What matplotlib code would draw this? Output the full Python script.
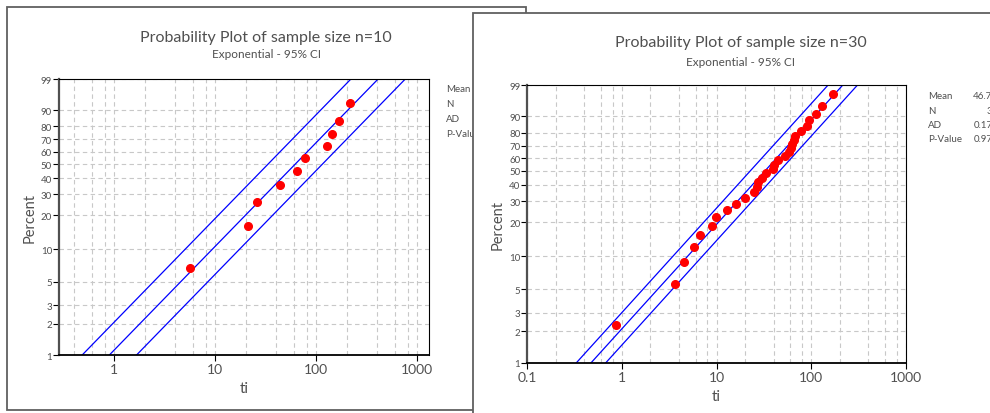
import numpy as np
import matplotlib.pyplot as plt
from matplotlib.patches import Rectangle
from matplotlib.ticker import LogLocator, NullFormatter

plt.rcParams['font.family'] = ['Lato', 'DejaVu Sans']

# sample n=10 (failure times) and median-rank percents
t10 = [5.66, 21.1, 25.9, 43.4, 64.0, 76.8, 126.8, 142, 168, 214]
pct10 = [6.7, 16.3, 26.0, 35.6, 45.2, 54.8, 64.4, 74.0, 83.7, 93.3]
mean10 = 88.8

# sample n=30
t30 = [0.865, 3.66, 4.48, 5.76, 6.72, 8.93, 9.76, 12.97, 16.0, 20.1,
       24.8, 26.5, 27.5, 30.1, 33.5, 39.7, 40.3, 44.8, 52.3, 58.1,
       61.0, 63.0, 65.6, 67.2, 77.1, 90.0, 94.4, 111, 130, 171]
pct30 = [2.30, 5.59, 8.88, 12.17, 15.46, 18.75, 22.04, 25.33, 28.62, 31.91,
         35.20, 38.49, 41.78, 45.07, 48.36, 51.64, 54.93, 58.22, 61.51, 64.80,
         68.09, 71.38, 74.67, 77.96, 81.25, 84.54, 87.83, 91.12, 94.41, 97.70]
mean30 = 46.72

stat_names = ['Mean', 'N', 'AD', 'P-Value']
stat_vals30 = ['46.72', '30', '0.177', '0.973']

yticks = [1, 2, 3, 5, 10, 20, 30, 40, 50, 60, 70, 80, 90, 99]

W, H = 990, 414
TXT = '#505050'


def box(x0, y0, x1, y1):
    return [x0 / W, 1 - y1 / H, (x1 - x0) / W, (y1 - y0) / H]


def fwd(p):
    p = np.clip(np.asarray(p, dtype=float), 1e-4, 99.9999)
    return np.log10(-np.log(1 - p / 100))


def inv(w):
    return 100 * (1 - np.exp(-10 ** np.asarray(w, dtype=float)))


def ftext(x, y, s, z, **kw):
    kw.setdefault('color', TXT)
    fig.text(x / W, 1 - y / H, s, zorder=z, **kw)


def prob_plot(ax, t, pct, mean, n, xlim, xticks):
    ax.set_xscale('log')
    ax.set_yscale('function', functions=(fwd, inv))
    ax.set_xlim(*xlim)
    ax.set_ylim(1, 99)
    # fitted line and 95% CI on the scale parameter
    p_line = np.array([0.5, 99.5])
    q = -np.log(1 - p_line / 100)
    ci = np.exp(1.96 / np.sqrt(n))
    for k in [1 / ci, 1, ci]:
        ax.plot(mean * k * q, p_line, color='#0000ff', lw=0.9)
    ax.plot(t, pct, 'o', color='#ff0000', ms=5.5, mec='#ff0000')
    ax.set_yticks(yticks)
    ax.set_yticklabels([str(v) for v in yticks], fontsize=7, color=TXT)
    ax.set_xticks(xticks)
    ax.set_xticklabels([('%g' % v) for v in xticks], fontsize=10, color=TXT)
    ax.xaxis.set_minor_locator(LogLocator(base=10, subs=(2, 4, 6, 8)))
    ax.xaxis.set_minor_formatter(NullFormatter())
    ax.tick_params(axis='x', which='minor', length=0)
    ax.tick_params(axis='x', which='major', length=4, pad=2)
    ax.tick_params(axis='y', which='major', length=4, pad=1)
    ax.grid(True, which='both', axis='x', color='#c8c8c8', ls=(0, (4, 3)), lw=0.8)
    ax.grid(True, which='major', axis='y', color='#c8c8c8', ls=(0, (4, 3)), lw=0.8)
    ax.spines['left'].set_color('#505050')
    ax.spines['left'].set_linewidth(1.6)
    ax.spines['bottom'].set_linewidth(1.3)
    ax.set_xlabel('ti', fontsize=11, color=TXT, labelpad=4)
    ax.set_ylabel('Percent', fontsize=10.5, color=TXT, labelpad=3)


fig = plt.figure(figsize=(W / 100, H / 100), dpi=100)

# left panel (n=10), partly covered by the right one
fig.add_artist(Rectangle((7 / W, 1 - 411 / H), (526 - 7) / W, (411 - 8) / H,
                         transform=fig.transFigure, fc='white', ec='#606060',
                         lw=1.3, zorder=1))
ax1 = fig.add_axes(box(59, 80, 429, 356), zorder=2)
prob_plot(ax1, t10, pct10, mean10, 10, (0.283, 1305), [1, 10, 100, 1000])
ftext(266, 38, 'Probability Plot of sample size n=10', 2, fontsize=11.5,
      ha='center', va='center')
ftext(266, 55, 'Exponential - 95% CI', 2, fontsize=8.5, ha='center', va='center')
for i, s in enumerate(stat_names):
    ftext(446, 90 + i * 14.7, s, 2, fontsize=7, va='center')

# right panel (n=30)
fig.add_artist(Rectangle((473 / W, -0.1), 1.1, 1.1 - 14 / H,
                         transform=fig.transFigure, fc='white', ec='#606060',
                         lw=1.3, zorder=3))
ax2 = fig.add_axes(box(527.3, 86, 906, 364), zorder=4)
prob_plot(ax2, t30, pct30, mean30, 30, (0.1, 1000), [0.1, 1, 10, 100, 1000])
ftext(741, 43, 'Probability Plot of sample size n=30', 4, fontsize=11.5,
      ha='center', va='center')
ftext(741, 62, 'Exponential - 95% CI', 4, fontsize=8.5, ha='center', va='center')
for i, (s, v) in enumerate(zip(stat_names, stat_vals30)):
    ftext(928, 96.5 + i * 14.5, s, 4, fontsize=7, va='center')
    ftext(998, 96.5 + i * 14.5, v, 4, fontsize=7, va='center', ha='right')

fig.savefig('out.png', dpi=100)
